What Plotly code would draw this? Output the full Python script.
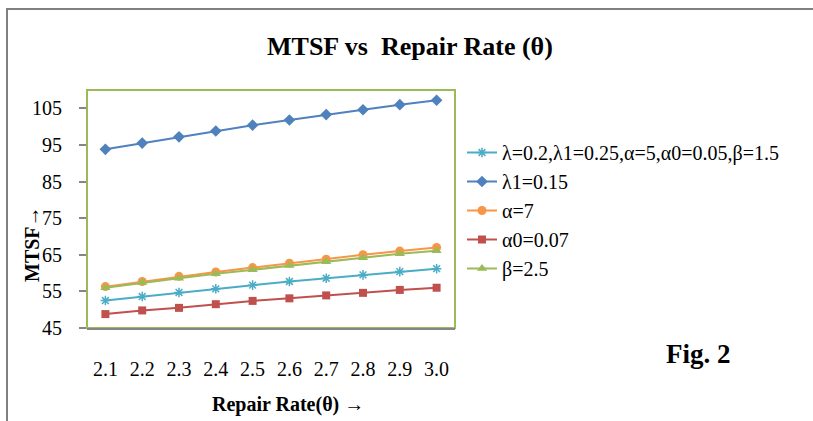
import plotly.graph_objects as go

# ---- data ----
repair_rate = ["2.1", "2.2", "2.3", "2.4", "2.5", "2.6", "2.7", "2.8", "2.9", "3.0"]
base_case = [52.5, 53.6, 54.7, 55.7, 56.7, 57.7, 58.6, 59.5, 60.4, 61.2]
lambda1_015 = [93.8, 95.5, 97.2, 98.8, 100.4, 101.8, 103.3, 104.6, 106.0, 107.2]
alpha_7 = [56.3, 57.7, 59.1, 60.3, 61.5, 62.7, 63.8, 65.0, 66.0, 67.0]
alpha0_007 = [48.8, 49.8, 50.5, 51.5, 52.4, 53.1, 53.9, 54.6, 55.4, 56.0]
beta_25 = [56.0, 57.4, 58.6, 59.8, 60.9, 62.1, 63.1, 64.2, 65.3, 66.1]
y_ticks = [45, 55, 65, 75, 85, 95, 105]

names = ["λ=0.2,λ1=0.25,α=5,α0=0.05,β=1.5", "λ1=0.15", "α=7", "α0=0.07", "β=2.5"]
series = [base_case, lambda1_015, alpha_7, alpha0_007, beta_25]
colors = ["#4BACC6", "#4F81BD", "#F79646", "#C0504D", "#9BBB59"]
symbols = ["asterisk-open", "diamond", "circle", "square", "triangle-up"]
msizes = [8, 9, 9, 8, 9]

FONT = "Liberation Serif, Times New Roman, DejaVu Serif, serif"
W, H = 813, 421
L, R, T, B = 87, 455, 90, 328


def px(x):
    return (x - L) / (R - L)


def py(y):
    return (B - y) / (B - T)


fig = go.Figure()
for name, ys, c, s, ms in zip(names, series, colors, symbols, msizes):
    marker = dict(symbol=s, size=ms, color=c)
    if s == "asterisk-open":
        marker["line"] = dict(color=c, width=1.5)
    fig.add_trace(go.Scatter(x=repair_rate, y=ys, name=name, mode="lines+markers",
                             line=dict(color=c, width=2), marker=marker))

fig.update_layout(
    width=W, height=H,
    margin=dict(l=L, r=W - R, t=T, b=H - B, pad=0),
    paper_bgcolor="white", plot_bgcolor="white",
    font=dict(family=FONT, size=20, color="black"),
    showlegend=True,
    legend=dict(x=px(462), y=py(133), xanchor="left", yanchor="top",
                font=dict(family=FONT, size=20, color="black"),
                bgcolor="rgba(0,0,0,0)", tracegroupgap=0),
    xaxis=dict(type="category", range=[-0.5, 9.5], showgrid=False, zeroline=False,
               showline=True, linecolor="#868686", linewidth=2, ticks="",
               ticklabelstandoff=22, tickfont=dict(family=FONT, size=20)),
    yaxis=dict(range=[45, 110], tickvals=y_ticks, showgrid=False, zeroline=False,
               showline=False, ticks="outside", ticklen=7, tickcolor="#868686",
               tickwidth=1.5, ticklabelstandoff=13, tickfont=dict(family=FONT, size=20)),
    shapes=[
        dict(type="rect", xref="paper", yref="paper", x0=0, x1=1, y0=0, y1=1,
             line=dict(color="#9BBB59", width=2), layer="below"),
        dict(type="rect", xref="paper", yref="paper", x0=px(7), x1=px(830),
             y0=py(9), y1=py(440), line=dict(color="#808080", width=2)),
    ],
    annotations=[
        dict(text="<b>MTSF vs  Repair Rate (θ)</b>", xref="paper", yref="paper",
             x=px(410), y=py(47), showarrow=False, xanchor="center", yanchor="middle",
             font=dict(family=FONT, size=26)),
        dict(text="<b>MTSF→</b>", xref="paper", yref="paper", x=px(32), y=py(244),
             textangle=-90, showarrow=False, xanchor="center", yanchor="middle",
             font=dict(family=FONT, size=20)),
        dict(text="<b>Repair Rate(θ) →</b>", xref="paper", yref="paper", x=px(288),
             y=py(404), showarrow=False, xanchor="center", yanchor="middle",
             font=dict(family=FONT, size=20)),
        dict(text="<b>Fig. 2</b>", xref="paper", yref="paper", x=px(698), y=py(354),
             showarrow=False, xanchor="center", yanchor="middle",
             font=dict(family=FONT, size=27)),
    ],
)

fig.write_html("out.html", config={"displayModeBar": False},
               post_script="document.body.style.margin='0';document.body.style.overflow='hidden';")
